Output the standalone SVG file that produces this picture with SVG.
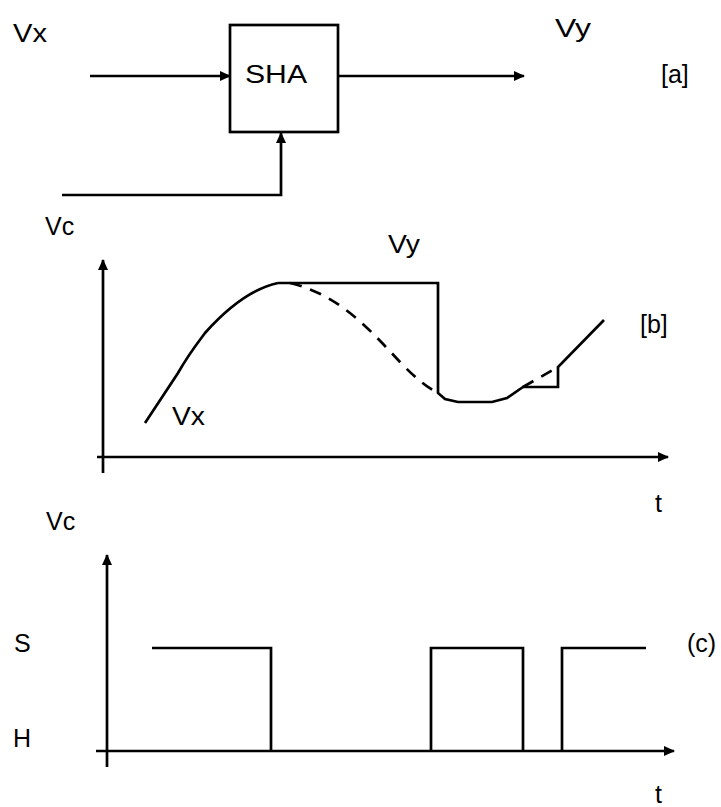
<svg xmlns="http://www.w3.org/2000/svg" width="721" height="807" viewBox="0 0 721 807">
<style>
text{font-family:"Liberation Sans",Arial,sans-serif;font-size:25px;fill:#000}
.ln{fill:none;stroke:#000;stroke-width:2.7}
.dash{fill:none;stroke:#000;stroke-width:2.7;stroke-dasharray:12 9}
</style>
<defs>
<marker id="ah" markerWidth="11" markerHeight="11" refX="10" refY="5.5" orient="auto" markerUnits="userSpaceOnUse">
<path d="M0,0.5 L11,5.5 L0,10.5 Z" fill="#000"/>
</marker>
</defs>
<rect width="721" height="807" fill="#fff"/>

<g id="sha">
<rect class="ln" x="230" y="25" width="108" height="107"/>
<text x="245" y="83" font-size="27" textLength="62" lengthAdjust="spacingAndGlyphs">SHA</text>
</g>
<g id="labels-a">
<text x="13" y="42" font-size="24" textLength="34" lengthAdjust="spacingAndGlyphs">Vx</text>
<text x="555" y="37" font-size="24" textLength="36" lengthAdjust="spacingAndGlyphs">Vy</text>
<text x="661" y="83" font-size="26">[a]</text>
<text x="45" y="235" font-size="26">Vc</text>
</g>
<g id="connectors">
<line class="ln" x1="90" y1="76" x2="230" y2="76" marker-end="url(#ah)"/>
<line class="ln" x1="338" y1="76" x2="524" y2="76" marker-end="url(#ah)"/>
<polyline class="ln" points="62,195 281,195 281,133" marker-end="url(#ah)"/>
</g>

<g id="graph-b">
<line class="ln" x1="103" y1="473" x2="103" y2="260" marker-end="url(#ah)"/>
<line class="ln" x1="97" y1="457" x2="668" y2="457" marker-end="url(#ah)"/>
<path class="ln" d="M145,423 L178,373 C190,352 200,340 205,333 C230,305 255,288 278,283"/>
<path class="dash" d="M290,283 C340,295 370,330 400,362 C415,378 428,388 438,393"/>
<polyline class="ln" points="278,283 438,283 438,393 445,399 458,402 492,402 507,398 523,387 558,387 558,367 604,320"/>
<line class="dash" x1="523" y1="387" x2="558" y2="367" stroke-dasharray="6 8"/>
<text x="388" y="253" font-size="24" textLength="32" lengthAdjust="spacingAndGlyphs">Vy</text>
<text x="640" y="333" font-size="26">[b]</text>
<text x="172" y="425" font-size="24" textLength="33" lengthAdjust="spacingAndGlyphs">Vx</text>
<text x="655" y="512" font-size="25">t</text>
</g>

<g id="graph-c">
<line class="ln" x1="107" y1="767" x2="107" y2="555" marker-end="url(#ah)"/>
<line class="ln" x1="96" y1="751" x2="674" y2="751" marker-end="url(#ah)"/>
<polyline class="ln" points="152,648 271,648 271,751"/>
<polyline class="ln" points="431,751 431,648 523,648 523,751"/>
<polyline class="ln" points="562,751 562,648 646,648"/>
<text x="46" y="530" font-size="24">Vc</text>
<text x="14" y="652" font-size="26">S</text>
<text x="687" y="652" font-size="25">(c)</text>
<text x="13" y="747" font-size="26">H</text>
<text x="655" y="803" font-size="25">t</text>
</g>
</svg>
